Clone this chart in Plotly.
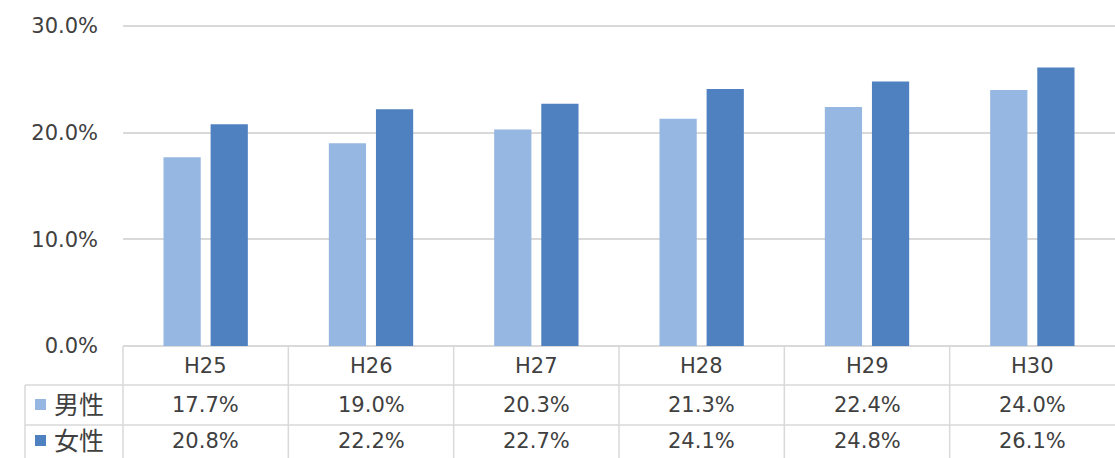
import plotly.graph_objects as go

categories = ["H25", "H26", "H27", "H28", "H29", "H30"]
male = [0.177, 0.190, 0.203, 0.213, 0.224, 0.240]
female = [0.208, 0.222, 0.227, 0.241, 0.248, 0.261]
series_names = ["男性", "女性"]
colors = ["#96B7E2", "#4F81C0"]

W, H = 1115, 458
FONT = "DejaVu Sans"
TXT = "#404040"
GRID = "#D9D9D9"
FS = 21

def px(x):
    return x / W

def py(y):
    return (H - y) / H

plot_left, plot_right = 123, 1115
ymax = 0.302
plot_bottom = 346
plot_top = plot_bottom - ymax * (320 / 0.30)
row_lines = [385, 425]
row_centers = [405, 441]
header_center = 366

fig = go.Figure()
for name, vals, col in zip(series_names, [male, female], colors):
    fig.add_trace(go.Bar(x=categories, y=vals, name=name, marker=dict(color=col, line=dict(width=0)),
                         showlegend=False, hoverinfo="skip"))

fig.update_layout(
    width=W, height=H, autosize=False,
    margin=dict(l=0, r=0, t=0, b=0, pad=0),
    paper_bgcolor="white", plot_bgcolor="white",
    barmode="group", bargap=0.43, bargroupgap=0.21,
    font=dict(family=FONT, size=FS, color=TXT),
    xaxis=dict(domain=[px(plot_left), px(plot_right)], range=[-0.5, 5.5], showticklabels=False,
               showgrid=False, zeroline=False, showline=False, type="category", automargin=False),
    yaxis=dict(domain=[py(plot_bottom), py(plot_top)], range=[0, ymax], tickvals=[0, 0.1, 0.2, 0.3],
               tickformat=".1%",
               showgrid=True, gridcolor=GRID, gridwidth=1.5, zeroline=True, zerolinecolor=GRID,
               zerolinewidth=1.5, showline=False, ticks="", ticklabelstandoff=24, automargin=False,
               tickfont=dict(family=FONT, size=FS, color=TXT)),
)

shapes = []
for yl in row_lines:
    shapes.append(dict(type="line", xref="paper", yref="paper", x0=px(25), x1=1, y0=py(yl), y1=py(yl),
                       line=dict(color=GRID, width=1.5)))
shapes.append(dict(type="line", xref="paper", yref="paper", x0=px(25), x1=px(25), y0=0, y1=py(row_lines[0]),
                   line=dict(color=GRID, width=1.5)))
shapes.append(dict(type="line", xref="paper", yref="paper", x0=px(plot_left), x1=px(plot_left), y0=0,
                   y1=py(plot_bottom), line=dict(color=GRID, width=1.5)))
for i in range(len(categories) - 1):
    shapes.append(dict(type="line", xref="x", yref="paper", x0=i + 0.5, x1=i + 0.5, y0=0, y1=py(plot_bottom),
                       line=dict(color=GRID, width=1.5)))
for j, col in enumerate(colors):
    yc = row_centers[j]
    shapes.append(dict(type="rect", xref="paper", yref="paper", x0=px(35), x1=px(46), y0=py(yc + 5),
                       y1=py(yc - 6), fillcolor=col, line=dict(width=0)))

annotations = []
for i, c in enumerate(categories):
    annotations.append(dict(x=i, y=py(header_center), xref="x", yref="paper", text=c, showarrow=False,
                            xanchor="center", yanchor="middle", font=dict(family=FONT, size=FS, color=TXT)))
for j, vals in enumerate([male, female]):
    for i, v in enumerate(vals):
        annotations.append(dict(x=i, y=py(row_centers[j]), xref="x", yref="paper", text=f"{v*100:.1f}%",
                                showarrow=False, xanchor="center", yanchor="middle",
                                font=dict(family=FONT, size=FS, color=TXT)))
    annotations.append(dict(x=px(52), y=py(row_centers[j] - 2), xref="paper", yref="paper", text=series_names[j],
                            showarrow=False, xanchor="left", yanchor="middle",
                            font=dict(family="Noto Sans CJK JP", size=25, color=TXT)))

fig.update_layout(shapes=shapes, annotations=annotations)
fig.write_html("out.html", config={"displayModeBar": False},
               post_script="document.body.style.margin='0';document.body.style.overflow='hidden';")
